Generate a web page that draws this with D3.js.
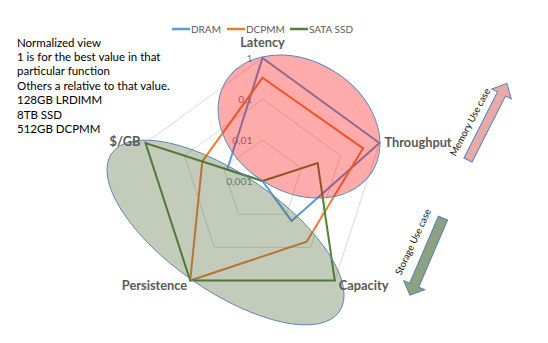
<!DOCTYPE html>
<html><head><meta charset="utf-8">
<script src="https://cdn.jsdelivr.net/npm/d3@7/dist/d3.min.js"></script>
<style>
body{margin:0;background:#fff;}
svg{display:block;font-family:Lato,"Open Sans",sans-serif;}
</style></head>
<body><svg id="c" width="548" height="343"></svg>
<script>
const axes = ["Latency","Throughput","Capacity","Persistence","$/GB"];
const seriesNames = ["DRAM","DCPMM","SATA SSD"];
const dram  = [1, 1, 0.016, 0.001, 0.008];
const dcpmm = [0.33, 0.38, 0.068, 1, 0.035];
const ssd   = [0.001, 0.026, 1, 1, 1];
const gridTicks = [0.001, 0.01, 0.1, 1];
const tickLabels = ["0,001","0,01","0,1","1"];
const notes = ["Normalized view","1 is for the best value in that","particular function","Others a relative to that value.","128GB LRDIMM","8TB SSD","512GB DCPMM"];
const colors = ["#5B9BD5","#ED7D31","#548235"];

const svg = d3.select("#c");
const cx = 262.5, cy = 181, R = 123;
const r = d3.scaleLog().domain([0.001,1]).range([0,R]);
const ang = d3.scaleBand().domain(axes).range([0, 2*Math.PI]);
function pt(a, v){ const t = ang(a); return [cx + r(v)*Math.sin(t), cy - r(v)*Math.cos(t)]; }

// grid
const g = svg.append("g");
gridTicks.filter(t=>t>0.001).forEach(t=>{
  g.append("polygon").attr("points", axes.map(a=>pt(a,t).join(",")).join(" "))
   .attr("fill","none").attr("stroke","#D9D9D9").attr("stroke-width",1);
});
gridTicks.forEach((t,i)=>{
  g.append("text").attr("x", cx-10).attr("y", cy - r(t)+3.5).attr("text-anchor","end")
   .attr("font-size",10.3).attr("fill","#7F7F7F").text(tickLabels[i]);
});

// series
const line = d3.line();
[dram, dcpmm, ssd].forEach((vals,i)=>{
  const pts = axes.map((a,j)=>pt(a, vals[j]));
  svg.append("path").attr("d", line(pts)+"Z").attr("fill","none")
    .attr("stroke", colors[i]).attr("stroke-width",2).attr("stroke-linejoin","miter");
});

// ellipses
svg.append("ellipse").attr("cx",225.5).attr("cy",232.5).attr("rx",138.6).attr("ry",58.1)
  .attr("transform","rotate(34.8 225.5 232.5)")
  .attr("fill","#4E6839").attr("fill-opacity",0.34).attr("stroke","#5A86B5").attr("stroke-width",0.9);
svg.append("ellipse").attr("cx",299).attr("cy",126.5).attr("rx",86).attr("ry",65.4)
  .attr("transform","rotate(31.2 299 126.5)")
  .attr("fill","#FF0000").attr("fill-opacity",0.33).attr("stroke","#5A86B5").attr("stroke-width",0.9);

// axis labels
const lab = svg.append("g").attr("font-weight","bold").attr("font-size",12.8).attr("fill","#595959");
const labOff = {"Latency":[0,-11,"middle"],"Throughput":[5,4.5,"start"],"Capacity":[4,9.5,"start"],"Persistence":[-3,9.5,"end"],"$/GB":[-5,3,"end"]};
axes.forEach(a=>{
  const p = pt(a,1), o = labOff[a];
  lab.append("text").attr("x",p[0]+o[0]).attr("y",p[1]+o[1]).attr("text-anchor",o[2]).text(a);
});

// legend
const lg = svg.append("g").attr("font-size",10).attr("fill","#595959");
const lx = [172, 227, 290];
seriesNames.forEach((s,i)=>{
  lg.append("line").attr("x1",lx[i]).attr("x2",lx[i]+18).attr("y1",29).attr("y2",29)
    .attr("stroke",colors[i]).attr("stroke-width",2.5);
  lg.append("text").attr("x",lx[i]+19).attr("y",32.5).text(s);
});

// notes
const nt = svg.append("g").attr("font-size",11.5).attr("fill","#000");
notes.forEach((n,i)=>nt.append("text").attr("x",17).attr("y",46.5+i*14.4).text(n));

// arrows
function arrow(x,y,angle,L,w,H,h,fill){
  const p = [[0,-w],[L-h,-w],[L-h,-H],[L,0],[L-h,H],[L-h,w],[0,w]];
  svg.append("polygon").attr("points", p.map(q=>q.join(",")).join(" "))
    .attr("transform",`translate(${x},${y}) rotate(${angle})`)
    .attr("fill",fill).attr("stroke","#4A7EBB").attr("stroke-width",0.9);
}
arrow(468,160,-63.1,86,4.5,11,12,"#E8A9A9");
arrow(443,218,113.2,84,5,11.5,11,"#8DA080");
svg.append("text").attr("transform","translate(470,122) rotate(-62)").attr("text-anchor","middle")
  .attr("dy","0.35em").attr("font-size",9.6).attr("fill","#111").text("Memory Use case");
svg.append("text").attr("transform","translate(413,242) rotate(-65)").attr("text-anchor","middle")
  .attr("dy","0.35em").attr("font-size",9.6).attr("fill","#111").text("Storage Use case");
</script></body></html>
